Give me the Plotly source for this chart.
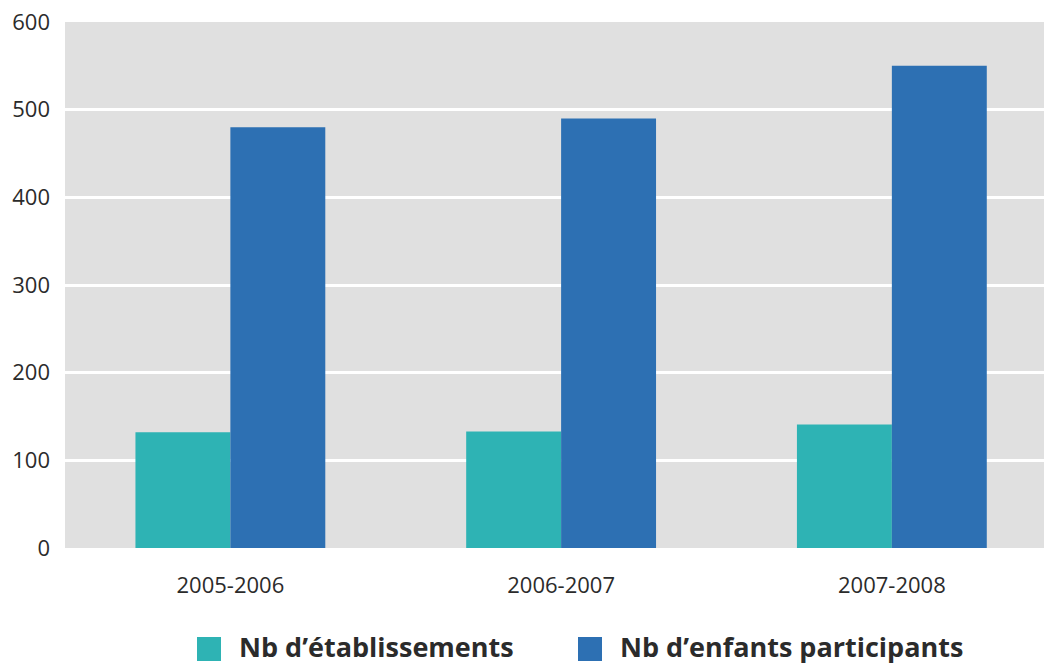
import plotly.graph_objects as go

categories = ["2005-2006", "2006-2007", "2007-2008"]
etablissements = [132, 133, 141]
enfants = [480, 490, 550]
series_names = ["Nb d\u2019établissements", "Nb d\u2019enfants participants"]
y_ticks = [0, 100, 200, 300, 400, 500, 600]

TEAL = "#2eb3b4"
BLUE = "#2d70b3"
BG = "#e0e0e0"
TEXT = "#2b2b2b"
FONT = "Open Sans"

fig = go.Figure()
fig.add_trace(go.Bar(x=categories, y=etablissements, name=series_names[0],
                     marker=dict(color=TEAL, line=dict(width=0)), showlegend=False))
fig.add_trace(go.Bar(x=categories, y=enfants, name=series_names[1],
                     marker=dict(color=BLUE, line=dict(width=0)), showlegend=False))

fig.update_layout(
    width=1044, height=665, autosize=False,
    margin=dict(l=65, r=0, t=22, b=117),
    paper_bgcolor="white", plot_bgcolor=BG,
    barmode="group", bargap=0.426, bargroupgap=0,
    font=dict(family=FONT, color=TEXT),
    xaxis=dict(type="category", range=[-0.5, 2.46], showgrid=False, zeroline=False,
               showline=False, ticks="", tickfont=dict(size=22, color=TEXT),
               ticklabelstandoff=22),
    yaxis=dict(range=[0, 600], tickvals=y_ticks, showgrid=True, gridcolor="white",
               gridwidth=3, zeroline=False, showline=False, ticks="",
               tickfont=dict(size=22, color=TEXT), ticklabelstandoff=14),
)

# manual legend (large swatches)
PH = 526.0
PW = 979.0
legend_items = [(series_names[0], TEAL, (197 - 65) / PW), (series_names[1], BLUE, (578 - 65) / PW)]
for name, color, x0 in legend_items:
    top = -(637 - 548) / PH
    fig.add_shape(type="rect", xref="paper", yref="paper",
                  x0=x0, x1=x0 + 24 / PW, y0=top, y1=top - 24 / PH,
                  fillcolor=color, line=dict(width=0))
    fig.add_annotation(xref="paper", yref="paper", x=x0 + 40 / PW, y=-(646 - 548) / PH,
                       text="<b>" + name + "</b>", showarrow=False, xanchor="left",
                       yanchor="middle", font=dict(size=27, color=TEXT, family=FONT))

fig.write_html("out.html", config={"responsive": False, "displayModeBar": False},
               post_script="document.body.style.margin='0';document.body.style.overflow='hidden';")
